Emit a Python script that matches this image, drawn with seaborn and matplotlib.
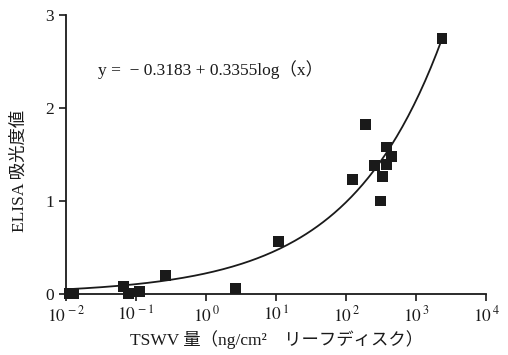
import numpy as np
import pandas as pd
import matplotlib
matplotlib.use('Agg')
import matplotlib.pyplot as plt
import matplotlib.ticker as mticker
import seaborn as sns

# measured points (TSWV amount, ELISA absorbance)
tswv = [0.011, 0.013, 0.0665, 0.078, 0.111, 0.262, 2.6, 10.9,
        124, 189, 254, 309, 327, 380, 380, 440, 2350]
elisa = [0.005, 0.005, 0.08, 0.005, 0.025, 0.20, 0.06, 0.56,
         1.23, 1.82, 1.38, 1.00, 1.26, 1.39, 1.58, 1.48, 2.75]

# trend curve as drawn (y = a * x^b)
trend_a = 0.222
trend_b = 0.324
equation = 'y =  − 0.3183 + 0.3355log（x）'

x_ticks = [1e-2, 1e-1, 1e0, 1e1, 1e2, 1e3, 1e4]
y_ticks = [0, 1, 2, 3]

df = pd.DataFrame({'x': tswv, 'y': elisa})
xs = np.logspace(-2, np.log10(2350), 200)
fit = pd.DataFrame({'x': xs, 'y': trend_a * xs ** trend_b})

sns.set_style('ticks')
plt.rcParams['font.family'] = ['Liberation Serif', 'Noto Sans CJK JP']
plt.rcParams['mathtext.fontset'] = 'stix'

fig = plt.figure(figsize=(5.08, 3.55), dpi=100)
ax = fig.add_axes([0.130, 0.172, 0.827, 0.786])

sns.lineplot(data=fit, x='x', y='y', color='#1a1a1a', linewidth=1.3, ax=ax)
sns.scatterplot(data=df, x='x', y='y', marker='s', s=60, color='#1a1a1a',
                edgecolor='none', ax=ax, clip_on=False, zorder=3)

ax.set_xscale('log')
ax.set_xlim(1e-2, 1e4)
ax.set_ylim(0, 3)
ax.xaxis.set_major_locator(mticker.FixedLocator(x_ticks))
ax.xaxis.set_minor_locator(mticker.NullLocator())
ax.xaxis.set_major_formatter(mticker.FuncFormatter(
    lambda v, p: r'$10^{\,%d}$' % int(round(np.log10(v)))))
ax.set_yticks(y_ticks)

for s in ['top', 'right']:
    ax.spines[s].set_visible(False)
for s in ['left', 'bottom']:
    ax.spines[s].set_linewidth(1.3)
    ax.spines[s].set_color('#1a1a1a')
ax.tick_params(axis='both', labelsize=12.5, length=5, width=1.2, color='#1a1a1a',
               labelcolor='#1a1a1a')

ax.set_xlabel('TSWV 量（ng/cm²　リーフディスク）', fontsize=12.5, color='#1a1a1a',
              labelpad=3)
ax.set_ylabel('ELISA 吸光度値', fontsize=12.5, color='#1a1a1a')
ax.yaxis.set_label_coords(-0.092, 0.44)

ax.text(0.076, 0.803, equation, transform=ax.transAxes, fontsize=12.5,
        va='center', ha='left', color='#1a1a1a')

fig.savefig('out.png', dpi=100)
